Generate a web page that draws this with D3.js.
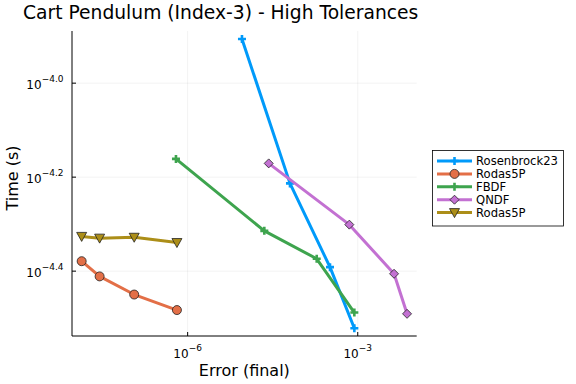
<!DOCTYPE html>
<html>
<head>
<meta charset="utf-8">
<script src="https://cdn.jsdelivr.net/npm/d3@7"></script>
<style>
  body { margin: 0; background: #fff; }
  text { font-family: "DejaVu Sans", sans-serif; }
</style>
</head>
<body>
<div id="chart"></div>
<script>
// error (final) values, shared by both Rodas5P runs
const rodasErr = [1.35e-8, 2.80e-8, 1.14e-7, 6.47e-7];

const rosenErr = [9.08e-6, 6.38e-5, 3.24e-4, 8.71e-4];
const rosenTime = [1.242e-4, 6.12e-5, 4.06e-5, 3.01e-5];

const rodasTime = [4.18e-5, 3.88e-5, 3.55e-5, 3.29e-5];

const fbdfErr = [6.22e-7, 2.25e-5, 1.89e-4, 8.71e-4];
const fbdfTime = [6.90e-5, 4.85e-5, 4.23e-5, 3.25e-5];

const qndfErr = [2.69e-5, 7.11e-4, 4.37e-3, 7.41e-3];
const qndfTime = [6.75e-5, 5.00e-5, 3.93e-5, 3.23e-5];

const rodas2Time = [4.72e-5, 4.68e-5, 4.70e-5, 4.58e-5];

const seriesNames = ["Rosenbrock23", "Rodas5P", "FBDF", "QNDF", "Rodas5P"];
const xTickExp = [-6, -3];
const yTickExp = ["-4.4", "-4.2", "-4.0"];

const series = [
  { name: seriesNames[0], xs: rosenErr, ys: rosenTime, color: "#009AFA", marker: "cross" },
  { name: seriesNames[1], xs: rodasErr, ys: rodasTime, color: "#E36F47", marker: "circle" },
  { name: seriesNames[2], xs: fbdfErr, ys: fbdfTime, color: "#3EA44E", marker: "cross" },
  { name: seriesNames[3], xs: qndfErr, ys: qndfTime, color: "#C371D2", marker: "diamond" },
  { name: seriesNames[4], xs: rodasErr, ys: rodas2Time, color: "#AC8E18", marker: "dtriangle" }
];

const W = 576, H = 384;
const plot = { left: 72, right: 416.7, top: 31, bottom: 336 };

const svg = d3.select("#chart").append("svg")
  .attr("width", W).attr("height", H);

const x = d3.scaleLog()
  .domain([Math.pow(10, -8.04), Math.pow(10, -1.96)])
  .range([plot.left, plot.right]);
const y = d3.scaleLog()
  .domain([Math.pow(10, -4.538), Math.pow(10, -3.889)])
  .range([plot.bottom, plot.top]);

// grid
const grid = svg.append("g").attr("stroke", "#000").attr("stroke-opacity", 0.1).attr("stroke-width", 0.5);
xTickExp.forEach(e => {
  const px = x(Math.pow(10, e));
  grid.append("line").attr("x1", px).attr("x2", px).attr("y1", plot.top).attr("y2", plot.bottom);
});
yTickExp.forEach(e => {
  const py = y(Math.pow(10, +e));
  grid.append("line").attr("x1", plot.left).attr("x2", plot.right).attr("y1", py).attr("y2", py);
});

// axes frame (left + bottom)
svg.append("line").attr("x1", plot.left).attr("x2", plot.left)
  .attr("y1", plot.top).attr("y2", plot.bottom).attr("stroke", "#000").attr("stroke-width", 1);
svg.append("line").attr("x1", plot.left).attr("x2", plot.right)
  .attr("y1", plot.bottom).attr("y2", plot.bottom).attr("stroke", "#000").attr("stroke-width", 1);

// ticks + labels
xTickExp.forEach(e => {
  const px = x(Math.pow(10, e));
  svg.append("line").attr("x1", px).attr("x2", px).attr("y1", plot.bottom).attr("y2", plot.bottom - 4)
    .attr("stroke", "#000");
  const t = svg.append("text").attr("x", px).attr("y", plot.bottom + 21.5)
    .attr("text-anchor", "middle").attr("font-size", 12);
  t.append("tspan").text("10");
  t.append("tspan").attr("dy", -6.5).attr("font-size", 9).text("\u2212" + Math.abs(e));
});
yTickExp.forEach(e => {
  const py = y(Math.pow(10, +e));
  svg.append("line").attr("x1", plot.left).attr("x2", plot.left + 4).attr("y1", py).attr("y2", py)
    .attr("stroke", "#000");
  const t = svg.append("text").attr("x", plot.left - 8.5).attr("y", py + 6)
    .attr("text-anchor", "end").attr("font-size", 12);
  t.append("tspan").text("10");
  t.append("tspan").attr("dy", -7).attr("font-size", 9).text("\u2212" + e.slice(1));
});

// axis titles
svg.append("text").attr("x", (plot.left + plot.right) / 2).attr("y", 376)
  .attr("text-anchor", "middle").attr("font-size", 16).text("Error (final)");
svg.append("text").attr("transform", `translate(18,178) rotate(-90)`)
  .attr("text-anchor", "middle").attr("font-size", 16).text("Time (s)");
svg.append("text").attr("x", 23).attr("y", 19).attr("font-size", 18.7)
  .text("Cart Pendulum (Index-3) - High Tolerances");

function drawMarker(g, type, cx, cy, color) {
  if (type === "cross") {
    g.append("path").attr("d", `M${cx - 4},${cy}H${cx + 4}M${cx},${cy - 4}V${cy + 4}`)
      .attr("stroke", color).attr("stroke-width", 2.6).attr("fill", "none");
  } else if (type === "circle") {
    g.append("circle").attr("cx", cx).attr("cy", cy).attr("r", 4.5)
      .attr("fill", color).attr("stroke", "#222").attr("stroke-width", 0.8);
  } else if (type === "diamond") {
    g.append("path").attr("d", `M${cx},${cy - 4.5}L${cx + 4.5},${cy}L${cx},${cy + 4.5}L${cx - 4.5},${cy}Z`)
      .attr("fill", color).attr("stroke", "#222").attr("stroke-width", 0.8);
  } else if (type === "dtriangle") {
    g.append("path").attr("d", `M${cx - 5},${cy - 4}L${cx + 5},${cy - 4}L${cx},${cy + 5}Z`)
      .attr("fill", color).attr("stroke", "#222").attr("stroke-width", 0.8);
  }
}

const line = d3.line().x(d => x(d[0])).y(d => y(d[1]));
const plotG = svg.append("g");
series.forEach(s => {
  const pts = s.xs.map((v, i) => [v, s.ys[i]]);
  plotG.append("path").attr("d", line(pts)).attr("fill", "none")
    .attr("stroke", s.color).attr("stroke-width", 3).attr("stroke-linejoin", "round");
  pts.forEach(p => drawMarker(plotG, s.marker, x(p[0]), y(p[1]), s.color));
});

// legend
const leg = svg.append("g");
leg.append("rect").attr("x", 432.5).attr("y", 150.5).attr("width", 131).attr("height", 75.5)
  .attr("fill", "#fff").attr("stroke", "#000").attr("stroke-width", 0.8);
series.forEach((s, i) => {
  const ly = 161 + i * 12.9;
  leg.append("line").attr("x1", 437).attr("x2", 472).attr("y1", ly).attr("y2", ly)
    .attr("stroke", s.color).attr("stroke-width", 3);
  drawMarker(leg, s.marker, 454.5, ly, s.color);
  leg.append("text").attr("x", 476).attr("y", ly + 4).attr("font-size", 11.6).text(s.name);
});
</script>
</body>
</html>
